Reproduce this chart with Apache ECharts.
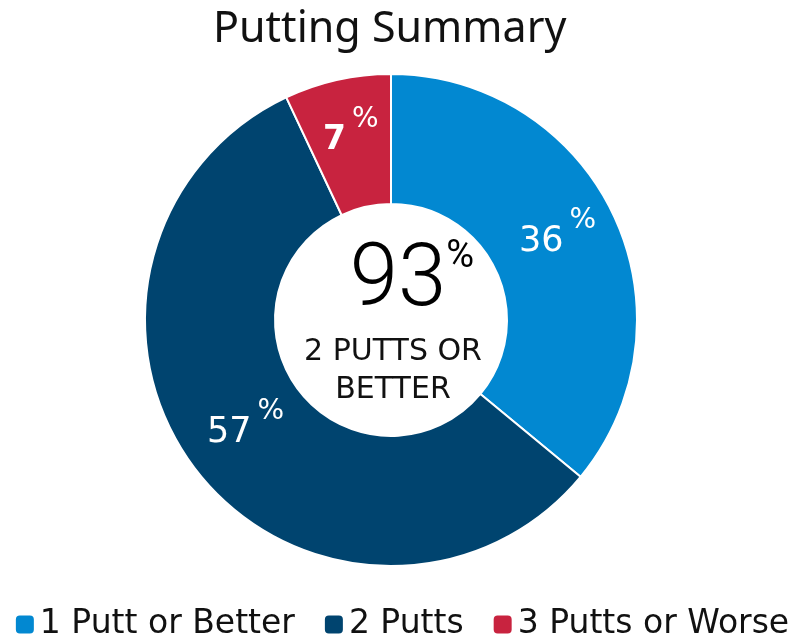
<!DOCTYPE html>
<html>
<head>
<meta charset="utf-8">
<script src="https://cdn.jsdelivr.net/npm/echarts@6/dist/echarts.min.js"></script>
<style>
html,body{margin:0;padding:0;background:#fff;}
#chart{width:803px;height:639px;}
</style>
</head>
<body>
<div id="chart"></div>
<script>
var titleText = 'Putting Summary';
var categories = ['1 Putt or Better', '2 Putts', '3 Putts or Worse'];
var values = [36, 57, 7];
var colors = ['#0288D1', '#00446F', '#C8233F'];
var labelWeights = ['normal', 'normal', 'bold'];
var centerValue = '93';
var centerCaption = '2 PUTTS OR\nBETTER';

var chart = echarts.init(document.getElementById('chart'));
var data = categories.map(function (c, i) {
  return { name: c, value: values[i], itemStyle: { color: colors[i] } };
});

chart.setOption({
  animation: false,
  title: {
    text: titleText,
    left: 208,
    top: 3,
    textStyle: { fontFamily: 'Noto Sans', fontWeight: 'normal', fontSize: 43, color: '#111' }
  },
  legend: {
    top: 603,
    left: 'center',
    icon: 'roundRect',
    itemWidth: 20,
    itemHeight: 20,
    itemGap: 28,
    textStyle: { fontFamily: 'DejaVu Sans', fontSize: 33, color: '#111' },
    data: categories
  },
  series: [{
    type: 'pie',
    center: [391, 320],
    radius: [116, 246],
    startAngle: 90,
    clockwise: true,
    avoidLabelOverlap: false,
    itemStyle: { borderColor: '#fff', borderWidth: 2 },
    label: {
      show: true,
      position: 'inside',
      formatter: function (p) {
        return '{' + (labelWeights[p.dataIndex] === 'bold' ? 'b' : 'v') + '|' + p.value + '}{p|%}';
      },
      rich: {
        v: { fontFamily: 'DejaVu Sans', fontWeight: 'normal', fontSize: 35, color: '#fff', lineHeight: 50 },
        b: { fontFamily: 'DejaVu Sans', fontWeight: 'bold', fontSize: 33, color: '#fff', lineHeight: 50 },
        p: { fontFamily: 'DejaVu Sans', fontSize: 28, color: '#fff', padding: [0, 0, 42, 6] }
      }
    },
    labelLine: { show: false },
    emphasis: { disabled: true },
    data: data
  }],
  graphic: [{
    type: 'text',
    x: 412,
    y: 238,
    style: {
      text: '{n|' + centerValue + '}{s|%}',
      textAlign: 'center',
      rich: {
        n: { fontFamily: 'Roboto', fontWeight: 300, fontSize: 87, color: '#111', lineHeight: 87 },
        s: { fontFamily: 'Roboto', fontWeight: 400, fontSize: 38, color: '#111', padding: [0, 0, 52, 0] }
      }
    }
  }, {
    type: 'text',
    x: 393,
    y: 333,
    style: {
      text: centerCaption,
      textAlign: 'center',
      fontFamily: 'DejaVu Sans',
      fontSize: 30,
      lineHeight: 38,
      fill: '#111'
    }
  }]
});
</script>
</body>
</html>
